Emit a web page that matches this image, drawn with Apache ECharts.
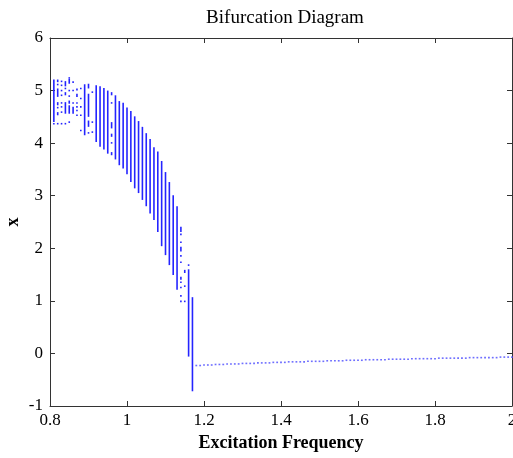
<!DOCTYPE html>
<html>
<head>
<meta charset="utf-8">
<script src="https://cdn.jsdelivr.net/npm/echarts@6/dist/echarts.min.js"></script>
<style>
html,body{margin:0;padding:0;background:#fff;}
#chart{width:513px;height:458px;}
</style>
</head>
<body>
<div id="chart"></div>
<script>
// Bifurcation columns: [frequency, low x, high x] (low==high for isolated dots)
const bandSegments = [
  [0.81, 4.40, 5.21], [0.81, 4.37, 4.37],
  [0.82, 5.16, 5.21], [0.82, 5.10, 5.13], [0.82, 4.88, 5.04], [0.82, 4.72, 4.78], [0.82, 4.66, 4.69], [0.82, 4.53, 4.59], [0.82, 4.37, 4.37],
  [0.83, 5.16, 5.19], [0.83, 5.10, 5.10], [0.83, 5.00, 5.00], [0.83, 4.91, 4.91], [0.83, 4.75, 4.78], [0.83, 4.69, 4.69], [0.83, 4.59, 4.59], [0.83, 4.37, 4.37],
  [0.84, 5.08, 5.18], [0.84, 5.04, 5.04], [0.84, 4.91, 4.97], [0.84, 4.56, 4.78], [0.84, 4.37, 4.37],
  [0.85, 5.24, 5.24], [0.85, 5.13, 5.22], [0.85, 5.00, 5.00], [0.85, 4.88, 4.91], [0.85, 4.75, 4.81], [0.85, 4.56, 4.72], [0.85, 4.40, 4.40],
  [0.86, 5.16, 5.16], [0.86, 5.00, 5.00], [0.86, 4.75, 4.78], [0.86, 4.56, 4.69],
  [0.87, 5.00, 5.04], [0.87, 4.88, 4.94], [0.87, 4.75, 4.78], [0.87, 4.69, 4.69], [0.87, 4.62, 4.62], [0.87, 4.53, 4.53],
  [0.88, 5.04, 5.04], [0.88, 4.85, 4.85], [0.88, 4.69, 4.69], [0.88, 4.53, 4.53], [0.88, 4.24, 4.24],
  [0.89, 4.15, 5.12],
  [0.90, 5.04, 5.13], [0.90, 4.50, 4.94], [0.90, 4.31, 4.43], [0.90, 4.18, 4.21],
  [0.91, 4.97, 4.97], [0.91, 4.40, 4.40], [0.91, 4.21, 4.21],
  [0.92, 4.02, 5.10],
  [0.93, 3.93, 5.08],
  [0.94, 3.88, 5.05],
  [0.95, 3.80, 5.00],
  [0.96, 4.91, 4.97], [0.96, 4.75, 4.78], [0.96, 4.28, 4.40], [0.96, 4.12, 4.18], [0.96, 3.99, 4.02], [0.96, 3.77, 3.83],
  [0.97, 3.69, 4.91],
  [0.98, 3.58, 4.80],
  [0.99, 3.52, 4.77],
  [1.00, 3.41, 4.68],
  [1.01, 3.26, 4.61],
  [1.02, 3.14, 4.51],
  [1.03, 3.05, 4.42],
  [1.04, 2.92, 4.31],
  [1.05, 2.80, 4.19],
  [1.06, 2.66, 4.08],
  [1.07, 2.54, 3.92],
  [1.08, 2.31, 3.84],
  [1.09, 2.04, 3.66],
  [1.10, 1.87, 3.45],
  [1.11, 1.68, 3.26],
  [1.12, 1.49, 3.01],
  [1.13, 1.21, 2.80],
  [1.14, 2.31, 2.41], [1.14, 2.25, 2.28], [1.14, 2.10, 2.13], [1.14, 1.94, 2.03], [1.14, 1.84, 1.87], [1.14, 1.72, 1.75], [1.14, 1.40, 1.46], [1.14, 1.34, 1.37], [1.14, 1.24, 1.27], [1.14, 1.08, 1.11], [1.14, 0.99, 0.99],
  [1.15, 1.53, 1.59], [1.15, 1.28, 1.28], [1.15, 0.99, 0.99],
  [1.16, 1.68, 1.68], [1.16, -0.06, 1.60],
  [1.17, -0.72, 1.07]
];

// Period-1 branch after the jump: [frequency, x]
const tailPoints = [
  [1.18,-0.23],[1.19,-0.23],[1.20,-0.22],[1.21,-0.22],[1.22,-0.22],[1.23,-0.21],[1.24,-0.21],[1.25,-0.21],
  [1.26,-0.20],[1.27,-0.20],[1.28,-0.20],[1.29,-0.20],[1.30,-0.19],[1.31,-0.19],[1.32,-0.19],[1.33,-0.19],
  [1.34,-0.18],[1.35,-0.18],[1.36,-0.18],[1.37,-0.18],[1.38,-0.17],[1.39,-0.17],[1.40,-0.17],[1.41,-0.17],
  [1.42,-0.16],[1.43,-0.16],[1.44,-0.16],[1.45,-0.16],[1.46,-0.16],[1.47,-0.15],[1.48,-0.15],[1.49,-0.15],
  [1.50,-0.15],[1.51,-0.15],[1.52,-0.14],[1.53,-0.14],[1.54,-0.14],[1.55,-0.14],[1.56,-0.14],[1.57,-0.13],
  [1.58,-0.13],[1.59,-0.13],[1.60,-0.13],[1.61,-0.13],[1.62,-0.12],[1.63,-0.12],[1.64,-0.12],[1.65,-0.12],
  [1.66,-0.12],[1.67,-0.12],[1.68,-0.11],[1.69,-0.11],[1.70,-0.11],[1.71,-0.11],[1.72,-0.11],[1.73,-0.11],
  [1.74,-0.10],[1.75,-0.10],[1.76,-0.10],[1.77,-0.10],[1.78,-0.10],[1.79,-0.10],[1.80,-0.10],[1.81,-0.09],
  [1.82,-0.09],[1.83,-0.09],[1.84,-0.09],[1.85,-0.09],[1.86,-0.09],[1.87,-0.09],[1.88,-0.09],[1.89,-0.08],
  [1.90,-0.08],[1.91,-0.08],[1.92,-0.08],[1.93,-0.08],[1.94,-0.08],[1.95,-0.08],[1.96,-0.08],[1.97,-0.07],
  [1.98,-0.07],[1.99,-0.07],[2.00,-0.07]
];

const xTickValues = [0.8, 1, 1.2, 1.4, 1.6, 1.8, 2];
const yTickValues = [-1, 0, 1, 2, 3, 4, 5, 6];

const titleText = 'Bifurcation Diagram';
const xName = 'Excitation Frequency';
const yName = 'x';

const serif = '"Liberation Serif","Times New Roman",Times,serif';
const axisColor = '#333';

const chart = echarts.init(document.getElementById('chart'), null, {renderer: 'canvas'});

const tickStyle = {show: true, inside: true, length: 5, lineStyle: {color: axisColor, width: 1}};

chart.setOption({
  animation: false,
  backgroundColor: '#fff',
  title: {
    text: titleText, left: 280, top: 4, textAlign: 'center',
    textStyle: {fontFamily: serif, fontSize: 19, fontWeight: 'normal', color: '#000'}
  },
  grid: {left: 50, right: 1, top: 38, bottom: 52, containLabel: false, outerBoundsMode: 'none'},
  xAxis: [{
    type: 'value', min: xTickValues[0], max: xTickValues[xTickValues.length - 1], interval: 0.2,
    position: 'bottom',
    name: xName, nameLocation: 'middle', nameGap: 28, nameMoveOverlap: false,
    nameTextStyle: {fontFamily: serif, fontSize: 18, fontWeight: 'bold', color: '#000'},
    axisLine: {show: true, onZero: false, lineStyle: {color: axisColor, width: 1}},
    axisTick: tickStyle,
    axisLabel: {fontFamily: serif, fontSize: 17, color: '#000', margin: 6,
      formatter: v => String(Math.round(v * 10) / 10)},
    splitLine: {show: false}
  }, {
    type: 'value', min: xTickValues[0], max: xTickValues[xTickValues.length - 1], interval: 0.2,
    position: 'top',
    axisLine: {show: true, onZero: false, lineStyle: {color: axisColor, width: 1}},
    axisTick: tickStyle, axisLabel: {show: false}, splitLine: {show: false}
  }],
  yAxis: [{
    type: 'value', min: yTickValues[0], max: yTickValues[yTickValues.length - 1], interval: 1,
    position: 'left',
    name: yName, nameLocation: 'middle', nameGap: 28, nameRotate: 90, nameMoveOverlap: false,
    nameTextStyle: {fontFamily: serif, fontSize: 18, fontWeight: 'bold', color: '#000'},
    axisLine: {show: true, onZero: false, lineStyle: {color: axisColor, width: 1}},
    axisTick: tickStyle,
    axisLabel: {fontFamily: serif, fontSize: 17, color: '#000', margin: 7},
    splitLine: {show: false}
  }, {
    type: 'value', min: yTickValues[0], max: yTickValues[yTickValues.length - 1], interval: 1,
    position: 'right',
    axisLine: {show: true, onZero: false, lineStyle: {color: axisColor, width: 1}},
    axisTick: tickStyle, axisLabel: {show: false}, splitLine: {show: false}
  }],
  series: [{
    type: 'custom',
    xAxisIndex: 0, yAxisIndex: 0,
    data: bandSegments,
    encode: {x: 0, y: [1, 2]},
    renderItem: function (params, api) {
      const f = api.value(0), lo = api.value(1), hi = api.value(2);
      const pTop = api.coord([f, hi]);
      const pBot = api.coord([f, lo]);
      let h = pBot[1] - pTop[1];
      let y = pTop[1];
      if (h < 1.6) { y -= (1.6 - h) / 2; h = 1.6; }
      return {
        type: 'rect',
        shape: {x: pTop[0] - 0.8, y: y, width: 1.6, height: h},
        style: {fill: '#2424ff'}
      };
    },
    clip: true
  }, {
    type: 'scatter',
    xAxisIndex: 0, yAxisIndex: 0,
    data: tailPoints,
    symbol: 'rect',
    symbolSize: [1.8, 1.6],
    itemStyle: {color: '#4a4aff'}
  }]
});
</script>
</body>
</html>
